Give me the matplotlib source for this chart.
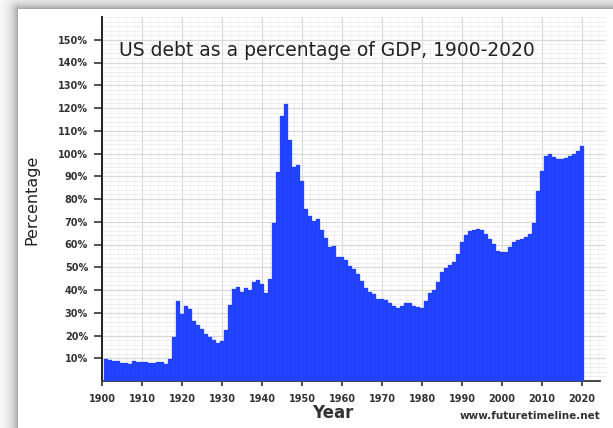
import matplotlib.pyplot as plt
import numpy as np
from matplotlib.ticker import MultipleLocator, FuncFormatter

# gross federal debt as % of GDP, one bar per year
years = list(range(1901, 2021))
debt_pct = [
    9.7, 9.2, 8.8, 8.9, 8.1, 7.8, 7.5, 8.9, 8.4, 8.2,          # 1901-1910
    8.2, 8.0, 7.8, 8.2, 8.2, 7.5, 9.7, 19.5, 35.2, 29.3,       # 1911-1920
    33.0, 31.5, 26.3, 24.5, 22.8, 20.6, 19.5, 18.1, 16.6, 17.8,  # 1921-1930
    22.2, 33.4, 40.3, 41.2, 39.3, 40.8, 40.0, 43.6, 44.3, 42.5,  # 1931-1940
    38.8, 45.0, 69.3, 91.8, 116.3, 121.6, 106.0, 94.1, 95.0, 88.0,  # 1941-1950
    75.5, 72.7, 70.5, 71.4, 66.4, 62.8, 59.1, 59.4, 54.7, 54.4,  # 1951-1960
    53.0, 50.7, 49.1, 46.9, 44.1, 40.8, 39.3, 38.1, 36.2, 35.9,  # 1961-1970
    35.6, 34.4, 32.9, 31.9, 32.9, 34.4, 34.1, 32.9, 32.4, 32.2,  # 1971-1980
    35.3, 38.9, 40.0, 43.3, 48.0, 49.8, 51.0, 52.4, 55.8, 60.9,  # 1981-1990
    64.1, 66.0, 66.3, 66.7, 66.3, 64.8, 62.6, 60.4, 57.1, 56.6,  # 1991-2000
    56.8, 59.0, 60.9, 61.9, 62.6, 63.4, 64.4, 69.4, 83.7, 92.1,  # 2001-2010
    98.7, 99.7, 98.4, 97.5, 97.5, 98.0, 98.7, 99.7, 101.3, 103.1,  # 2011-2020
]
xtick_years = list(range(1900, 2021, 10))
ytick_pcts = list(range(10, 151, 10))

W, H = 613, 428
fig = plt.figure(figsize=(W / 100, H / 100), dpi=100)

# white card with a soft grey shadow on the top and left edges
yy, xx = np.mgrid[0:H, 0:W]
card_l, card_t = 18, 9
dx = np.clip(card_l - xx, 0, None)
dy = np.clip(card_t - yy, 0, None)
d = np.hypot(dx, dy)
outside = (xx < card_l) | (yy < card_t)
shade = np.where(outside, 1 - 0.38 * np.exp(-d / 7.0), 1.0)
bg = np.dstack([shade, shade, shade])
fig.figimage(bg, xo=0, yo=0, origin="upper", zorder=-5)

ax = fig.add_axes([102 / W, 1 - 381 / H, (606 - 102) / W, (381 - 17) / H])
ax.set_zorder(2)
ax.set_facecolor("white")

ax.bar(years, debt_pct, width=0.82, color="#2244ff", edgecolor="#1a3ae6",
       linewidth=0.2, zorder=3)

ax.set_xlim(1900, 2026)
ax.set_ylim(0, 160)

ax.xaxis.set_minor_locator(MultipleLocator(2))
ax.yaxis.set_minor_locator(MultipleLocator(2))
ax.set_xticks(xtick_years)
ax.set_yticks(ytick_pcts)
ax.yaxis.set_major_formatter(FuncFormatter(lambda v, p: f"{int(v)}%"))

ax.grid(which="major", color="#d8d8d8", linewidth=0.8, zorder=0)
ax.grid(which="minor", color="#ececec", linewidth=0.6, zorder=0)
ax.set_axisbelow(True)

for s in ("top", "right"):
    ax.spines[s].set_visible(False)
ax.spines["left"].set_linewidth(1.4)
ax.spines["bottom"].set_linewidth(1.4)
ax.spines["left"].set_color("#222222")
ax.spines["bottom"].set_color("#444444")
ax.spines["bottom"].set_bounds(1900, 2024.5)

ax.tick_params(axis="y", which="major", length=6, width=1.2, color="#333333",
               labelsize=7, pad=4, labelcolor="#333333")
ax.tick_params(axis="x", which="major", direction="inout", length=7, width=1.2,
               color="#333333", labelsize=7, pad=6, labelcolor="#333333")
ax.tick_params(which="minor", length=0)
for lbl in ax.get_xticklabels() + ax.get_yticklabels():
    lbl.set_fontweight("bold")

ax.text(1904.3, 145.3, "US debt as a percentage of GDP, 1900-2020",
        fontsize=13.5, color="#222222", va="center", ha="left", zorder=5)

fig.text(32 / W, 1 - 200 / H, "Percentage", rotation=90, fontsize=11.5,
         ha="center", va="center", color="#222222")
fig.text(333 / W, 1 - 413 / H, "Year", fontsize=12, fontweight="bold",
         ha="center", va="center", color="#333333")
fig.text(530 / W, 1 - 416 / H, "www.futuretimeline.net", fontsize=7.5,
         fontweight="bold", ha="center", va="center", color="#333333")

fig.savefig("out.png", dpi=100)
